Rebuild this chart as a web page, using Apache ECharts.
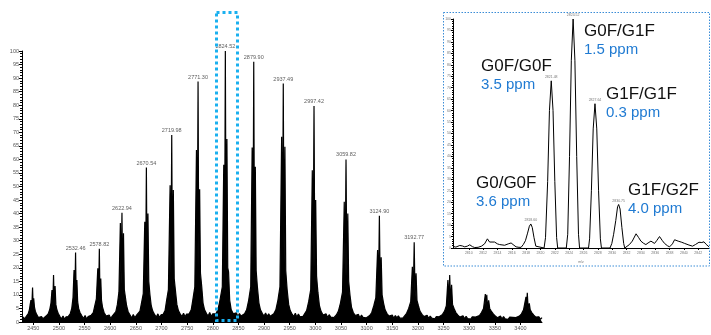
<!DOCTYPE html>
<html>
<head>
<meta charset="utf-8">
<script src="https://cdn.jsdelivr.net/npm/echarts@6/dist/echarts.min.js"></script>
<style>
  html, body { margin: 0; padding: 0; background: #fff; }
  #chart { width: 711px; height: 335px; }
</style>
</head>
<body>
<div id="chart"></div>
<script>
// full spectrum, [m/z, relative intensity]
const spectrum = [
  [2428, 1.0], [2431, 1.8], [2433.5, 0.9],
  [2436, 2.0], [2440, 3.0], [2442.5, 4.5], [2444, 6.5], [2445.5, 8.1], [2447, 5.0], [2448.6, 12.7], [2449.6, 6.5], [2450.8, 8.7], [2452.3, 5.5], [2454, 4.0], [2456.5, 2.8], [2460, 1.6],
  [2463, 1.0], [2466, 2.0], [2469, 1.2], [2472, 1.8],
  [2475, 2.2], [2479, 3.0], [2482, 4.5], [2484.5, 7.0], [2486.5, 11.8], [2488, 6.0], [2489.5, 17.3], [2490.8, 7.0], [2492.5, 13.3], [2494, 6.5], [2496, 4.5], [2498.5, 3.2], [2502, 2.0],
  [2505, 1.2], [2508, 2.2], [2511, 1.0], [2514, 1.9],
  [2518, 2.0], [2522, 3.0], [2525, 5.0], [2527.5, 9.0], [2529.5, 19.2], [2531, 8.0], [2532.46, 25.6], [2533.6, 9.0], [2535, 15.5], [2536.5, 7.5], [2538.5, 5.0], [2541, 3.5], [2545, 2.2],
  [2548, 1.3], [2551, 2.4], [2554, 1.1], [2557, 2.0], [2560, 1.4],
  [2563, 2.5], [2567, 3.5], [2570, 6.0], [2573, 8.5], [2575.8, 19.8], [2577.3, 9.0], [2578.82, 27.0], [2580, 9.5], [2581.6, 16.0], [2583, 8.0], [2585, 5.5], [2588, 3.5], [2592, 2.2],
  [2595, 1.6], [2598, 2.6], [2601, 1.3], [2604, 2.2],
  [2607, 2.5], [2611, 3.8], [2614, 6.5], [2617, 11.0], [2619.8, 36.5], [2621.3, 14.0], [2622.94, 40.3], [2624.2, 14.0], [2625.9, 32.7], [2627.5, 12.0], [2629.5, 11.5], [2632, 6.0], [2635, 3.8], [2639, 2.5],
  [2642, 1.5], [2645, 2.8], [2648, 1.6], [2651, 2.4],
  [2654, 2.6], [2658, 4.0], [2661, 7.0], [2664.5, 10.5], [2667.4, 37.0], [2669, 15.0], [2670.54, 57.0], [2671.9, 16.0], [2673.6, 40.0], [2675.2, 15.0], [2677.5, 10.0], [2680, 6.0], [2683, 4.0], [2687, 2.6],
  [2690, 1.8], [2693, 3.0], [2696, 1.7], [2699, 2.6],
  [2703, 2.8], [2707, 4.2], [2710, 8.0], [2713.5, 12.0], [2716.8, 50.5], [2718.4, 18.0], [2719.98, 69.0], [2721.4, 18.0], [2723.1, 48.7], [2724.8, 16.0], [2727, 12.0], [2730, 6.5], [2733, 4.2], [2737, 2.8],
  [2740, 2.0], [2743, 3.2], [2746, 1.9], [2749, 2.9], [2751.5, 2.2],
  [2754, 3.0], [2758, 4.5], [2761, 8.0], [2765, 13.0], [2768.2, 63.5], [2769.8, 20.0], [2771.3, 88.7], [2772.7, 20.0], [2774.4, 49.0], [2776, 18.0], [2778.5, 13.0], [2781, 7.0], [2784, 4.5], [2788, 3.0],
  [2791, 2.2], [2794, 3.5], [2797, 2.0], [2800, 3.0], [2803, 2.3],
  [2806, 3.0], [2810, 4.5], [2814, 8.0], [2818.6, 13.0], [2821.4, 58.0], [2823, 22.0], [2824.52, 100], [2826, 22.0], [2827.6, 67.5], [2829.2, 20.0], [2830.8, 18.5], [2833, 8.0], [2836, 4.5], [2840, 3.0],
  [2843, 2.4], [2846, 3.4], [2849, 2.0], [2852, 3.1], [2855, 2.2], [2858.5, 2.9],
  [2862, 3.0], [2866, 4.5], [2870, 8.0], [2874, 13.0], [2876.8, 64.4], [2878.4, 22.0], [2879.9, 96.0], [2881.4, 22.0], [2883, 57.3], [2884.6, 19.0], [2887, 13.0], [2890, 7.0], [2893, 4.5], [2897, 3.0],
  [2900, 2.2], [2903, 3.3], [2906, 2.0], [2909, 3.0], [2912, 2.1], [2915.5, 2.8],
  [2919, 3.0], [2923, 4.5], [2927, 8.0], [2931, 13.0], [2934.3, 68.4], [2935.9, 22.0], [2937.49, 88.0], [2939, 22.0], [2940.7, 64.7], [2942.3, 19.0], [2945, 12.0], [2948, 6.5], [2951, 4.2], [2955, 2.8],
  [2958, 2.0], [2961, 3.2], [2964, 1.8], [2967, 2.9], [2970, 1.9], [2973, 2.6], [2976, 2.1],
  [2979, 2.8], [2983, 4.2], [2987, 7.5], [2991, 12.0], [2994.1, 56.0], [2995.8, 20.0], [2997.42, 79.7], [2999, 20.0], [3000.7, 45.0], [3002.4, 17.0], [3005, 11.0], [3008, 6.0], [3011, 4.0], [3015, 2.6],
  [3018, 1.9], [3021, 3.0], [3024, 1.7], [3027, 2.7], [3030, 1.8], [3033, 2.5], [3036, 1.6], [3038.5, 2.3],
  [3041, 2.6], [3045, 4.0], [3049, 7.0], [3053, 11.0], [3056.4, 44.4], [3058.1, 17.0], [3059.82, 60.0], [3061.5, 17.0], [3063.3, 40.0], [3065, 15.0], [3067.5, 10.0], [3070.5, 5.5], [3074, 3.5], [3078, 2.4],
  [3081, 1.8], [3084, 2.8], [3087, 1.5], [3090, 2.6], [3093, 1.7], [3096, 2.4], [3099, 1.5], [3102.5, 2.2],
  [3106, 2.4], [3110, 3.5], [3114, 6.0], [3118, 9.0], [3121.4, 26.6], [3123.1, 11.0], [3124.9, 39.2], [3126.6, 11.0], [3128.4, 23.9], [3130.2, 10.0], [3133, 7.0], [3136, 4.5], [3140, 3.0], [3144, 2.2],
  [3147, 1.6], [3150, 2.6], [3153, 1.4], [3156, 2.4], [3159, 1.5], [3162, 2.3], [3165, 1.4], [3168, 2.1], [3171, 1.5],
  [3174, 2.2], [3178, 3.2], [3182, 5.0], [3186, 7.5], [3189.2, 20.4], [3191, 9.0], [3192.77, 29.4], [3194.5, 9.0], [3196.4, 18.0], [3198.2, 8.0], [3201, 6.0], [3204, 4.0], [3208, 2.8], [3212, 2.0],
  [3215, 1.5], [3218, 2.5], [3221, 1.3], [3224, 2.2], [3227, 1.4], [3230, 2.1], [3233, 1.2], [3236, 2.0], [3239, 1.3], [3241.5, 1.9],
  [3244, 2.0], [3248, 2.8], [3252, 4.0], [3255.5, 6.0], [3258.5, 15.5], [3260.3, 7.0], [3262, 17.3], [3263.8, 7.0], [3265.7, 13.7], [3267.5, 6.5], [3270.5, 5.0], [3274, 3.5], [3278, 2.5], [3282, 1.8],
  [3285, 1.4], [3288, 2.3], [3291, 1.2], [3294, 2.1], [3297, 1.3], [3300, 2.0], [3303, 1.1], [3306, 1.9], [3309, 1.2], [3312.5, 1.8],
  [3316, 1.8], [3320, 2.4], [3324, 3.5], [3328, 5.0], [3331.5, 10.3], [3333, 5.5], [3334.3, 10.0], [3336, 5.0], [3338, 8.0], [3340, 5.0], [3343, 4.0], [3347, 3.0], [3351, 2.2], [3355, 1.6],
  [3358, 1.3], [3361, 2.2], [3364, 1.1], [3367, 2.0], [3370, 1.2], [3373, 1.9], [3376, 1.0], [3379, 1.8], [3382, 1.1], [3385, 1.7], [3388, 1.0], [3391, 1.6],
  [3394, 1.6], [3398, 2.2], [3402, 3.0], [3406, 4.5], [3410.8, 9.3], [3412, 5.0], [3413.3, 10.8], [3415, 5.0], [3417.2, 6.9], [3419, 4.5], [3422, 3.5], [3426, 2.5], [3430, 1.8],
  [3433, 1.2], [3436, 1.9], [3439, 1.0], [3442, 1.6]
]

const peakMz = [2532.46, 2578.82, 2622.94, 2670.54, 2719.98, 2771.3, 2824.52, 2879.9, 2937.49, 2997.42, 3059.82, 3124.9, 3192.77]
const peakLabels = ['2532.46', '2578.82', '2622.94', '2670.54', '2719.98', '2771.30', '2824.52', '2879.90', '2937.49', '2997.42', '3059.82', '3124.90', '3192.77']
const xTicks = [2450, 2500, 2550, 2600, 2650, 2700, 2750, 2800, 2850, 2900, 2950, 3000, 3050, 3100, 3150, 3200, 3250, 3300, 3350, 3400]

// zoomed view of the 2824.52 charge state
const insetSpectrum = [
  [2807.8, 0.7], [2808.2, 0.4], [2808.75, 1.1], [2809.1, 0.9], [2809.44, 0.5], [2809.8, 0.8], [2810.14, 1.4], [2810.5, 0.6], [2810.83, 0.2], [2811.3, 0.3], [2811.77, 0.8],
  [2812.2, 1.8], [2812.6, 4.0], [2812.9, 2.6], [2813.16, 2.0], [2813.6, 2.6], [2814.0, 1.8], [2814.3, 1.5], [2815.0, 1.2], [2815.5, 1.8], [2815.9, 2.2], [2816.3, 1.2], [2816.6, 0.5],
  [2817.0, 0.3], [2817.3, 0.3], [2817.6, 1.5], [2817.9, 3.2], [2818.2, 6.5], [2818.45, 9.5], [2818.65, 10.5], [2818.85, 9.0], [2819.1, 4.5], [2819.35, 0.8], [2819.5, 0],
  [2820.5, 0], [2820.7, 4.5], [2821.0, 29], [2821.25, 60], [2821.5, 73], [2821.75, 60], [2822.0, 29], [2822.25, 4.5], [2822.4, 0],
  [2823.6, 0], [2823.8, 6], [2824.05, 40], [2824.3, 82], [2824.55, 100], [2824.8, 82], [2825.05, 40], [2825.3, 6], [2825.45, 0],
  [2826.7, 0], [2826.85, 4], [2827.1, 25], [2827.35, 52], [2827.6, 63], [2827.85, 52], [2828.1, 25], [2828.35, 4], [2828.5, 0],
  [2829.7, 0], [2829.95, 2], [2830.2, 6], [2830.5, 12], [2830.75, 18], [2830.9, 19], [2831.1, 17], [2831.35, 9], [2831.6, 2], [2831.75, 0],
  [2832.0, 0.5], [2832.4, 1.5], [2832.8, 3.0], [2833.33, 6.2], [2833.7, 4.5], [2834.0, 3.0], [2834.4, 2.0], [2834.7, 1.5], [2835.0, 2.2], [2835.4, 3.0], [2835.9, 2.0],
  [2836.2, 3.2], [2836.6, 5.0], [2837.0, 3.2], [2837.3, 2.0], [2837.7, 1.0], [2838.0, 0.5], [2838.4, 1.8], [2838.7, 3.6], [2839.2, 3.0], [2839.7, 2.5], [2840.1, 2.0],
  [2840.7, 1.3], [2841.2, 0.8], [2841.6, 1.5], [2842.1, 2.5], [2842.5, 2.4], [2842.8, 2.7], [2843.1, 1.6], [2843.5, 0.5]
]
const insetPeakMz = [2818.65, 2821.5, 2824.55, 2827.6, 2830.9]
const insetPeakLabels = ['2818.60', '2821.48', '2824.52', '2827.64', '2830.75']
const insetTicks = [2810, 2812, 2814, 2816, 2818, 2820, 2822, 2824, 2826, 2828, 2830, 2832, 2834, 2836, 2838, 2840, 2842]
const glycoforms = ['G0/G0F', 'G0F/G0F', 'G0F/G1F', 'G1F/G1F', 'G1F/G2F']
const ppmErrors = ['3.6 ppm', '3.5 ppm', '1.5 ppm', '0.3 ppm', '4.0 ppm']

// where the glycoform text sits in the inset (px, top-left)
const glycoPos = [[476, 175], [481, 58], [584, 23], [606, 86], [628, 182]]

function heightAt (data, mz) {
  const p = data.find(d => Math.abs(d[0] - mz) < 0.01)
  return p ? p[1] : 0
}

const FONT = '"Liberation Sans", Arial, sans-serif'
const BLUE = '#1f7ad2'

const graphics = [
  {
    type: 'rect',
    shape: { x: 216.5, y: 12.5, width: 21, height: 308 },
    style: { fill: 'none', stroke: '#1ab0ef', lineWidth: 3, lineDash: [3, 3] },
    z: 100
  },
  {
    type: 'rect',
    shape: { x: 443.5, y: 12.5, width: 266, height: 253.5 },
    style: { fill: 'none', stroke: '#3a8cd6', lineWidth: 1, lineDash: [1.5, 1.5] },
    z: 100
  }
]
glycoforms.forEach((g, i) => {
  graphics.push({
    type: 'text',
    x: glycoPos[i][0],
    y: glycoPos[i][1],
    style: { text: g, font: '17px ' + FONT, fill: '#111', verticalAlign: 'top' },
    z: 101
  })
  graphics.push({
    type: 'text',
    x: glycoPos[i][0],
    y: glycoPos[i][1] + 19,
    style: { text: ppmErrors[i], font: '15px ' + FONT, fill: BLUE, verticalAlign: 'top' },
    z: 101
  })
})

const plain = v => String(v)

const option = {
  animation: false,
  backgroundColor: '#fff',
  textStyle: { fontFamily: FONT },
  grid: [
    { left: 22, right: 169, top: 51, bottom: 13 },
    { left: 453, right: 2, top: 19, bottom: 87 }
  ],
  xAxis: [
    {
      type: 'value',
      gridIndex: 0,
      min: 2428,
      max: 3442,
      axisLine: { lineStyle: { color: '#000', width: 1 } },
      axisTick: { customValues: xTicks, length: 3, lineStyle: { color: '#000' } },
      axisLabel: { customValues: xTicks, fontSize: 5.5, color: '#555', margin: 3, formatter: plain },
      splitLine: { show: false }
    },
    {
      type: 'value',
      gridIndex: 1,
      min: 2807.8,
      max: 2843.5,
      name: 'm/z',
      nameLocation: 'middle',
      nameGap: 9,
      nameTextStyle: { fontSize: 3.5, color: '#777' },
      axisLine: { lineStyle: { color: '#000', width: 1 } },
      axisTick: { customValues: insetTicks, length: 2, lineStyle: { color: '#000' } },
      axisLabel: { customValues: insetTicks, fontSize: 3.5, color: '#777', margin: 3, formatter: plain },
      splitLine: { show: false }
    }
  ],
  yAxis: [
    {
      type: 'value',
      gridIndex: 0,
      min: 0,
      max: 100,
      interval: 5,
      axisLine: { show: true, lineStyle: { color: '#000', width: 1 } },
      axisTick: { show: true, length: 3, lineStyle: { color: '#000' } },
      minorTick: { show: true, splitNumber: 5, length: 2, lineStyle: { color: '#000' } },
      axisLabel: { fontSize: 5.5, color: '#555', margin: 3 },
      splitLine: { show: false }
    },
    {
      type: 'value',
      gridIndex: 1,
      min: 0,
      max: 100,
      interval: 5,
      axisLine: { show: true, lineStyle: { color: '#000', width: 1 } },
      axisTick: { show: true, length: 2, lineStyle: { color: '#000' } },
      minorTick: { show: true, splitNumber: 5, length: 1, lineStyle: { color: '#000' } },
      axisLabel: { fontSize: 3.5, color: '#777', margin: 2 },
      splitLine: { show: false }
    }
  ],
  series: [
    {
      type: 'line',
      xAxisIndex: 0,
      yAxisIndex: 0,
      data: spectrum,
      showSymbol: false,
      silent: true,
      lineStyle: { color: '#000', width: 1.2 },
      areaStyle: { color: '#000', opacity: 1 }
    },
    {
      type: 'scatter',
      xAxisIndex: 0,
      yAxisIndex: 0,
      data: peakMz.map(m => [m, heightAt(spectrum, m)]),
      symbolSize: 1,
      itemStyle: { color: 'rgba(0,0,0,0)' },
      silent: true,
      label: {
        show: true,
        position: 'top',
        distance: 1,
        fontSize: 5.5,
        color: '#333',
        formatter: p => peakLabels[p.dataIndex]
      }
    },
    {
      type: 'line',
      xAxisIndex: 1,
      yAxisIndex: 1,
      data: insetSpectrum,
      showSymbol: false,
      silent: true,
      lineStyle: { color: '#000', width: 1 }
    },
    {
      type: 'scatter',
      xAxisIndex: 1,
      yAxisIndex: 1,
      data: insetPeakMz.map(m => [m, heightAt(insetSpectrum, m)]),
      symbolSize: 1,
      itemStyle: { color: 'rgba(0,0,0,0)' },
      silent: true,
      label: {
        show: true,
        position: 'top',
        distance: 1,
        fontSize: 3.5,
        color: '#555',
        formatter: p => insetPeakLabels[p.dataIndex]
      }
    }
  ],
  graphic: graphics
}

const chart = echarts.init(document.getElementById('chart'))
chart.setOption(option)
</script>
</body>
</html>
